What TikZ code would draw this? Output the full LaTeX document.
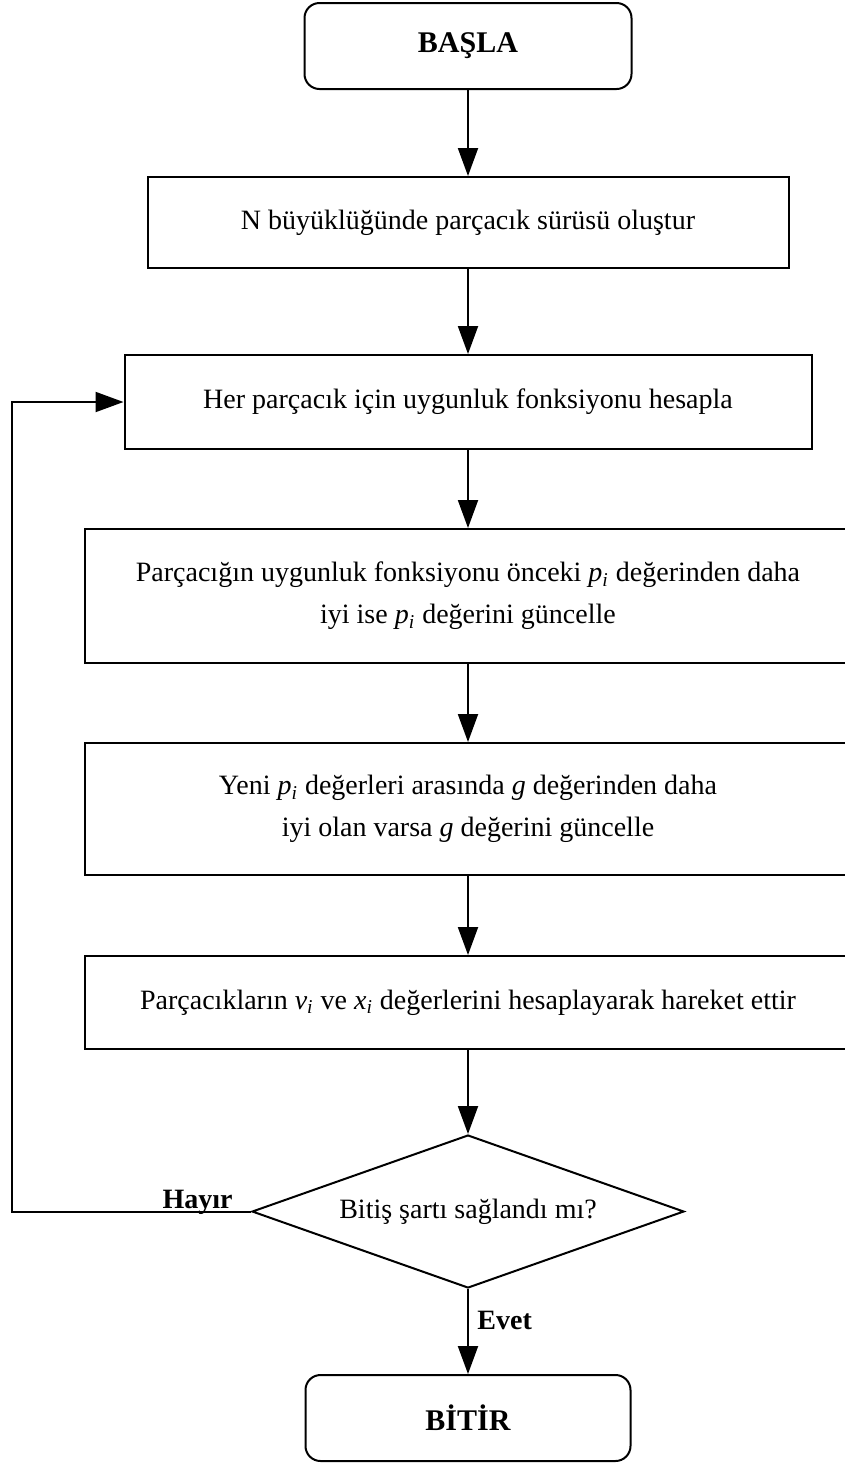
\documentclass[tikz,border=0pt]{standalone}
\usepackage{fontspec}
\setmainfont{Liberation Serif}
\usetikzlibrary{shapes.geometric,arrows.meta}
\newcommand{\indis}[2]{\textit{#1}\textsubscript{\textit{#2}}}

\begin{document}
\begin{tikzpicture}[x=0.5pt,y=-0.5pt]
  \tikzstyle{myline}=[line width=1pt, line join=miter];
  \tikzstyle{mybox}=[draw, myline, rectangle, align=center, inner sep=0pt,
    font=\fontsize{14}{21}\selectfont];
  \tikzstyle{myterm}=[mybox, rounded corners=7.5pt,
    font=\fontsize{15}{18}\selectfont\bfseries];
  \tikzstyle{mydec}=[mybox, diamond, aspect=2.8, minimum width=216pt,
    minimum height=76.5pt];
  \tikzstyle{myconn}=[myline, -{Triangle[length=14pt,width=10pt]}];
  \tikzstyle{mylabel}=[font=\fontsize{14}{16}\selectfont\bfseries, inner sep=0pt];
  %
  \useasboundingbox (0,0) rectangle (845,1463);
  %
  % start and set up
  \node[myterm, minimum width=163.5pt, minimum height=43pt] (basla) at (468,46)
    {BAŞLA};
  %
  \node[mybox, minimum width=320.5pt, minimum height=45.5pt] (olustur)
    at (468,222.5) {N büyüklüğünde parçacık sürüsü oluştur};
  %
  % loop body
  \node[mybox, minimum width=343.5pt, minimum height=47pt] (hesapla)
    at (468,402) {Her parçacık için uygunluk fonksiyonu hesapla};
  %
  \node[mybox, minimum width=383pt, minimum height=67pt] (kisisel)
    at (468,596) {Parçacığın uygunluk fonksiyonu önceki \indis{p}{i} değerinden daha\\
    iyi ise \indis{p}{i} değerini güncelle};
  %
  \node[mybox, minimum width=383pt, minimum height=66pt] (global)
    at (468,809) {Yeni \indis{p}{i} değerleri arasında \textit{g} değerinden daha\\
    iyi olan varsa \textit{g} değerini güncelle};
  %
  \node[mybox, minimum width=383pt, minimum height=46.5pt] (hareket)
    at (468,1002.5) {Parçacıkların \indis{v}{i} ve \indis{x}{i} değerlerini
    hesaplayarak hareket ettir};
  %
  % stop test
  \node[mydec] (kontrol) at (468,1211.5) {Bitiş şartı sağlandı mı?};
  %
  \node[myterm, minimum width=162.5pt, minimum height=43pt] (bitir) at (468,1418)
    {BİTİR};
  %
  % connections
  \draw[myconn] (basla.south) -- (olustur.north);
  \draw[myconn] (olustur.south) -- (hesapla.north);
  \draw[myconn] (hesapla.south) -- (kisisel.north);
  \draw[myconn] (kisisel.south) -- (global.north);
  \draw[myconn] (global.south) -- (hareket.north);
  \draw[myconn] (hareket.south) -- (kontrol.north);
  \draw[myconn] (kontrol.south) -- (bitir.north);
  %
  \coordinate (donus) at (12,1211.5);
  \draw[myconn] (kontrol.west) -- (donus) |- (hesapla.west);
  %
  \node[mylabel, anchor=base east] (hayir) at (233,1208) {Hayır};
  \node[mylabel, anchor=base west] (evet) at (477,1329) {Evet};
\end{tikzpicture}
\end{document}
